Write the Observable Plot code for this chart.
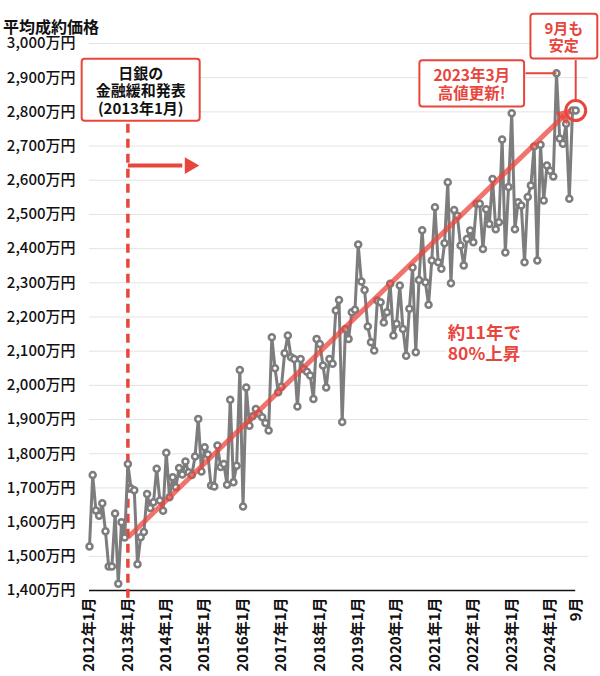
<!DOCTYPE html>
<html><head><meta charset="utf-8">
<script src="https://cdn.jsdelivr.net/npm/d3@7"></script>
<script src="https://cdn.jsdelivr.net/npm/@observablehq/plot@0.6"></script>
<style>
body{margin:0;background:#fff;font-family:"Noto Sans CJK JP",sans-serif;}
#wrap{position:relative;width:600px;height:676px;}
#title{position:absolute;left:3px;top:18px;font-size:16px;font-weight:700;color:#111;line-height:16px;z-index:2;}
svg{position:absolute;left:0;top:0;}
</style></head><body>
<div id="wrap"><div id="title">平均成約価格</div></div>
<script>
// ---- data (万円), monthly from 2012年1月 to 2024年9月 ----
const startYear = 2012;
const prices = [
1529,1738,1634,1619,1655,1573,1470,1470,1625,1420,1600,1555,
1770,1698,1693,1477,1556,1571,1682,1641,1658,1756,1663,1633,
1803,1673,1731,1702,1758,1739,1777,1746,1738,1792,1902,1748,
1819,1798,1707,1704,1824,1761,1770,1709,1958,1717,1765,2045,
1646,1994,1882,1910,1931,1917,1907,1890,1868,2141,2050,1980,
1996,2094,2146,2082,2077,1938,2077,2048,2040,2029,1960,2136,
2121,2058,1994,2077,2063,2219,2250,1893,2165,2136,2214,2221,
2412,2304,2279,2172,2126,2102,2248,2243,2184,2214,2297,2146,
2180,2292,2165,2087,2224,2345,2097,2308,2454,2302,2236,2365,
2521,2360,2341,2416,2594,2299,2513,2496,2409,2351,2428,2453,
2419,2531,2531,2399,2515,2472,2604,2457,2477,2719,2389,2580,
2796,2457,2536,2526,2360,2551,2585,2699,2365,2704,2541,2643,
2628,2611,2913,2722,2707,2765,2546,2804,2804
];
const yTicks = d3.range(1400, 3001, 100);
const bojIndex = 12;                 // 2013年1月
const trendX = [12, 148.5];
const trendY = [1555, 2790];
const pushX = [12, 29];              // horizontal arrow
const pushY = [2643, 2643];
const pushHeadX = 31.3;
const noteText  = ["日銀の\n金融緩和発表\n(2013年1月)", "2023年3月\n高値更新!", "9月も\n安定"];
const noteX     = [16, 119.5, 148.3];
const noteY     = [2862, 2880, 3019];
const noteColor = ["#111", "#e8453c", "#e8453c"];
const noteSize  = [15, 15.5, 15];
const noteLH    = [1.17, 1.17, 1.17];
const growthText = "約11年で\n80%上昇";
const growthX = 112, growthY = 2125;

// ---- derived ----
const red = "#e8453c", gray = "#7d7d7d";
const n = prices.length, last = n - 1;
const data = prices.map((v, i) => ({i, v}));
const peakI = d3.maxIndex(prices);
const xTicks = [...d3.range(0, last - 3, 12), last];
const fmtMonth = i => {
  const y = startYear + Math.floor(i / 12), m = i % 12 + 1;
  return i === last ? `${m}月` : `${y}年${m}月`;
};
const W = 600, H = 676, mL = 89, mR = 12, mT = 43, mB = 86;
const xDom = [0, 156], yDom = [1400, 3000];
const sx = (W - mL - mR) / (xDom[1] - xDom[0]);
const sy = (H - mT - mB) / (yDom[1] - yDom[0]);
const trendAngle = Math.atan2(-(trendY[1] - trendY[0]) * sy, (trendX[1] - trendX[0]) * sx) * 180 / Math.PI;

const notes = noteText.map((t, k) => ({t, x: noteX[k], y: noteY[k], c: noteColor[k], s: noteSize[k], lh: noteLH[k]}));

const marks = [
  Plot.gridY(yTicks.slice(1), {stroke: "#e3e3e3", strokeOpacity: 1, strokeWidth: 1}),
  Plot.axisY(yTicks, {tickSize: 0, tickPadding: 14, tickFormat: d => d3.format(",")(d) + "万円",
    fontSize: 15, fontWeight: 500, fill: "#111", label: null}),
  Plot.axisX(xTicks, {tickSize: 0, tickPadding: 7, tickRotate: -90, textAnchor: "end",
    tickFormat: fmtMonth, fontSize: 15, fontWeight: 600, fill: "#111", label: null}),
  Plot.ruleY([1400], {x1: 0, x2: last, stroke: "#111", strokeWidth: 1.5}),
  Plot.ruleX([bojIndex], {y1: 1377, y2: 2790, stroke: red, strokeWidth: 3.5, strokeDasharray: "9,6"}),
  Plot.link([0], {x1: pushX[0], x2: pushX[1], y1: pushY[0], y2: pushY[1], stroke: red, strokeWidth: 4}),
  Plot.dot([0], {x: pushHeadX, y: pushY[1], symbol: "triangle2", rotate: 90, r: 8, fill: red}),
  Plot.line(data, {x: "i", y: "v", stroke: gray, strokeWidth: 3}),
  Plot.dot(data, {x: "i", y: "v", r: 3, fill: "white", stroke: gray, strokeWidth: 2.5}),
  Plot.link([0], {x1: trendX[0], x2: trendX[1], y1: trendY[0], y2: trendY[1], stroke: red, strokeOpacity: 0.75, strokeWidth: 5}),
  Plot.dot([0], {x: trendX[1], y: trendY[1], symbol: "triangle2", rotate: 90 + trendAngle, r: 8, fill: red, fillOpacity: 0.8}),
  Plot.link([0], {x1: 136.3, x2: peakI, y1: prices[peakI], y2: prices[peakI], stroke: red, strokeWidth: 2}),
  Plot.ruleX([last], {y1: 2950, y2: prices[last] + 30, stroke: red, strokeWidth: 2}),
  Plot.dot([last], {x: d => d, y: d => prices[d], r: 10, stroke: red, strokeWidth: 3, fill: "none"}),
  Plot.text([growthText], {x: growthX, y: growthY, text: d => d, textAnchor: "start", fill: red,
    stroke: "white", strokeWidth: 6, fontSize: 17.5, fontWeight: 700, lineHeight: 1.2})
];
notes.forEach(nt => marks.push(
  Plot.text([nt], {x: "x", y: "y", text: "t", fill: nt.c, fontSize: nt.s, fontWeight: 700,
    lineHeight: nt.lh, textAnchor: "middle"})
));

const plot = Plot.plot({
  width: W, height: H, marginLeft: mL, marginRight: mR, marginTop: mT, marginBottom: mB,
  style: {fontFamily: '"Noto Sans CJK JP", sans-serif', background: "transparent", overflow: "visible"},
  x: {domain: xDom, axis: null},
  y: {domain: yDom, axis: null},
  marks
});
const wrap = document.getElementById("wrap");
wrap.insertBefore(plot, wrap.firstChild);

// boxes behind annotation texts
const flat = noteText.map(s => s.replace(/\n/g, ""));
plot.querySelectorAll("text").forEach(t => {
  if (!flat.includes(t.textContent)) return;
  const b = t.getBBox();
  const r = document.createElementNS("http://www.w3.org/2000/svg", "rect");
  const px = 14, py = 3;
  r.setAttribute("x", b.x - px); r.setAttribute("y", b.y - py);
  r.setAttribute("width", b.width + 2 * px); r.setAttribute("height", b.height + 2 * py);
  r.setAttribute("rx", 3);
  r.setAttribute("fill", "#fff"); r.setAttribute("stroke", red); r.setAttribute("stroke-width", 2);
  if (t.getAttribute("transform")) r.setAttribute("transform", t.getAttribute("transform"));
  t.parentNode.insertBefore(r, t);
});
</script>
</body></html>
